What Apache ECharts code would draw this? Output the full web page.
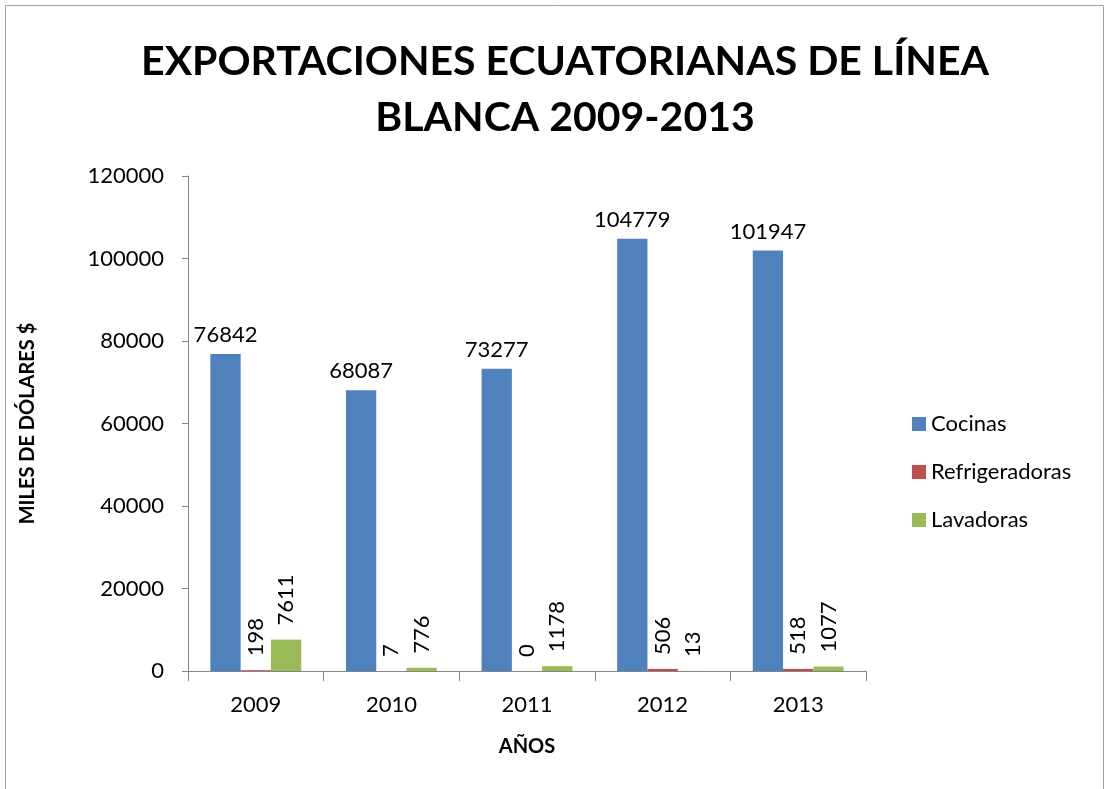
<!DOCTYPE html>
<html><head><meta charset="utf-8">
<script src="https://cdn.jsdelivr.net/npm/echarts@6/dist/echarts.min.js"></script>
<style>html,body{margin:0;padding:0;background:#fff}#c{width:1107px;height:789px}</style>
</head><body><div id="c"></div>
<script>
const categories = ['2009','2010','2011','2012','2013'];
const cocinas = [76842, 68087, 73277, 104779, 101947];
const refrigeradoras = [198, 7, 0, 506, 518];
const lavadoras = [7611, 776, 1178, 13, 1077];
const seriesNames = ['Cocinas','Refrigeradoras','Lavadoras'];
const colors = ['#4F81BD','#C0504D','#9BBB59'];
const F = 'Lato, "Open Sans", sans-serif';
const FS = 22;

const chart = echarts.init(document.getElementById('c'), null, {renderer:'canvas'});
const vLabel = {show:true, position:'top', rotate:90, align:'left', verticalAlign:'middle', distance:14, fontFamily:F, fontSize:FS, color:'#000'};
chart.setOption({
  animation:false,
  title:{text:'EXPORTACIONES ECUATORIANAS DE LÍNEA\nBLANCA 2009-2013', left:560, textAlign:'center', top:29,
    textStyle:{fontFamily:F, fontWeight:'bold', fontSize:41, lineHeight:56, color:'#000'}},
  graphic:[{type:'rect', shape:{x:5.5,y:5.5,width:1098,height:800}, style:{fill:'none', stroke:'#a0a0a0', lineWidth:1}, silent:true}],
  legend:{orient:'vertical', left:907, top:408, itemWidth:14, itemHeight:14, itemGap:26, icon:'rect',
    textStyle:{fontFamily:F, fontSize:FS, color:'#000'}, data:seriesNames},
  grid:{left:188, right:241, top:176, bottom:118, containLabel:false},
  xAxis:{type:'category', data:categories, name:'AÑOS', nameLocation:'middle', nameGap:66,
    nameTextStyle:{fontFamily:F, fontWeight:'bold', fontSize:20, color:'#000'},
    axisLine:{lineStyle:{color:'#868686'}}, axisTick:{show:true, length:10, lineStyle:{color:'#868686'}},
    axisLabel:{fontFamily:F, fontSize:FS, color:'#000', margin:23}},
  yAxis:{type:'value', min:0, max:120000, interval:20000, name:'MILES DE DÓLARES $', nameLocation:'middle', nameGap:150, nameRotate:90,
    nameTextStyle:{fontFamily:F, fontWeight:'bold', fontSize:20, color:'#000'},
    axisLine:{show:true, lineStyle:{color:'#868686'}}, axisTick:{show:true, length:6, inside:false, lineStyle:{color:'#868686'}},
    splitLine:{show:false}, axisLabel:{fontFamily:F, fontSize:FS, color:'#000', margin:24, formatter:v=>String(v)}},
  series:[
    {name:seriesNames[0], type:'bar', data:cocinas, itemStyle:{color:colors[0]}, barGap:'0%', barCategoryGap:'33%',
      label:{show:true, position:'top', distance:8, fontFamily:F, fontSize:FS, color:'#000'}},
    {name:seriesNames[1], type:'bar', data:refrigeradoras, itemStyle:{color:colors[1]}, barGap:'0%', barCategoryGap:'33%', label:vLabel},
    {name:seriesNames[2], type:'bar', data:lavadoras, itemStyle:{color:colors[2]}, barGap:'0%', barCategoryGap:'33%', label:vLabel}
  ]
});
</script></body></html>
